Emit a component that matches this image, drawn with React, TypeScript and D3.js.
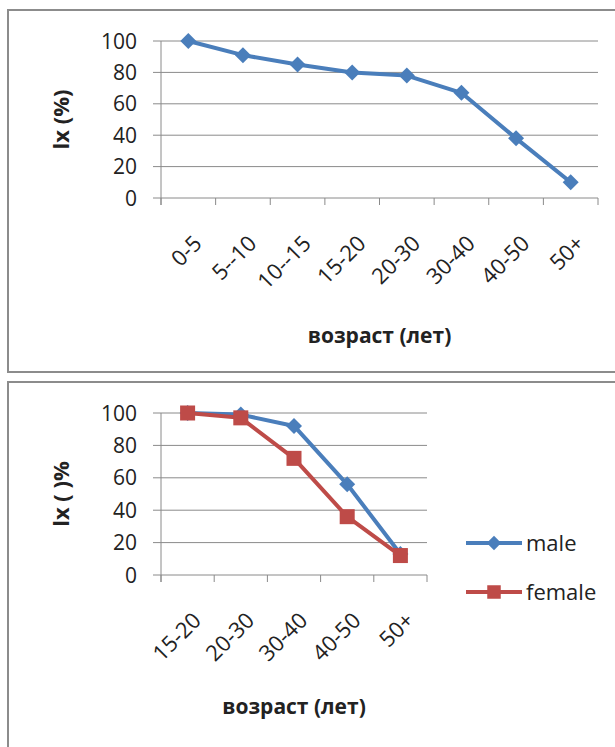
import * as d3 from 'd3';

// top chart: survival of the whole sample
const ageGroups = ['0-5', '5--10', '10--15', '15-20', '20-30', '30-40', '40-50', '50+'];
const lxAll = [100, 91, 85, 80, 78, 67, 38, 10];

// bottom chart: by sex
const ageGroupsSex = ['15-20', '20-30', '30-40', '40-50', '50+'];
const lxMale = [100, 99, 92, 56, 13];
const lxFemale = [100, 97, 72, 36, 12];

const yTicks = [0, 20, 40, 60, 80, 100];

const BLUE = '#4a7ebb';
const RED = '#be4b48';
const GRID = '#8a8a8a';
const FONT = '"Open Sans", "Liberation Sans", sans-serif';

interface Series {
  name: string;
  values: number[];
  color: string;
  marker: 'diamond' | 'square';
}

function Marker({ x, y, kind, color, size = 1 }: { x: number; y: number; kind: string; color: string; size?: number }) {
  if (kind === 'diamond') {
    const r = 8 * size;
    return <path d={`M${x},${y - r}L${x + r},${y}L${x},${y + r}L${x - r},${y}Z`} fill={color} />;
  }
  const s = 15 * size;
  return <rect x={x - s / 2} y={y - s / 2} width={s} height={s} fill={color} />;
}

function LineChart({
  top, categories, series, yTitle, xTitleY, left, right, bottom, legend,
}: {
  top: number; categories: string[]; series: Series[]; yTitle: string;
  xTitleY: number; left: number; right: number; bottom: number; legend?: boolean;
}) {
  const x = d3.scaleBand().domain(categories).range([left, right]);
  const y = d3.scaleLinear().domain([0, 100]).range([bottom, top]);
  const line = d3.line<number>()
    .x((_, i) => x(categories[i])! + x.bandwidth() / 2)
    .y(d => y(d));
  const tickXs = [...categories.map(c => x(c)!), right];

  return (
    <g>
      {yTicks.map(t => (
        <g key={t}>
          <line x1={left - 8} x2={right} y1={y(t)} y2={y(t)} stroke={GRID} strokeWidth={1} />
          <text x={left - 24} y={y(t)} dy="0.36em" textAnchor="end" fontSize={21} fill="#222" fontFamily={FONT}>{t}</text>
        </g>
      ))}
      <line x1={left} x2={left} y1={top} y2={bottom + 7} stroke={GRID} strokeWidth={1} />
      {tickXs.map((tx, i) => (
        <line key={i} x1={tx} x2={tx} y1={bottom} y2={bottom + 7} stroke={GRID} strokeWidth={1} />
      ))}
      {categories.map(c => {
        const cx = x(c)! + x.bandwidth() / 2 + 4;
        const cy = bottom + 36;
        return (
          <text key={c} transform={`translate(${cx},${cy}) rotate(-45)`} textAnchor="end" dy="0.7em"
            fontSize={22} fill="#222" fontFamily={FONT}>{c}</text>
        );
      })}
      {series.map(s => (
        <g key={s.name}>
          <path d={line(s.values)!} fill="none" stroke={s.color} strokeWidth={4} strokeLinejoin="round" />
          {s.values.map((v, i) => (
            <Marker key={i} x={x(categories[i])! + x.bandwidth() / 2} y={y(v)} kind={s.marker} color={s.color} />
          ))}
        </g>
      ))}
      <text transform={`translate(${left - 100},${(top + bottom) / 2}) rotate(-90)`} textAnchor="middle" dy="0.35em"
        fontSize={22} fontWeight="bold" fill="#222" fontFamily={FONT}>{yTitle}</text>
      <text x={(left + right) / 2} y={xTitleY} textAnchor="middle" dy="0.35em"
        fontSize={21} fontWeight="bold" fill="#222" fontFamily={FONT}>возраст (лет)</text>
      {legend && series.map((s, i) => {
        const ly = 543 + i * 49;
        return (
          <g key={s.name}>
            <line x1={466} x2={522} y1={ly} y2={ly} stroke={s.color} strokeWidth={4} />
            <Marker x={494} y={ly} kind={s.marker} color={s.color} size={0.9} />
            <text x={526} y={ly} dy="0.35em" fontSize={22} fill="#222" fontFamily={FONT}>{s.name}</text>
          </g>
        );
      })}
    </g>
  );
}

export default function App() {
  return (
    <div style={{ position: 'absolute', left: 0, top: 0 }}>
      <svg width={615} height={747} style={{ display: 'block', background: '#fff' }}>
        <rect x={8} y={10} width={620} height={362} fill="#fff" stroke="#8c8c8c" strokeWidth={2} />
        <rect x={8} y={382} width={620} height={380} fill="#fff" stroke="#8c8c8c" strokeWidth={2} />
        <LineChart
          top={41} bottom={198} left={161} right={598}
          categories={ageGroups}
          series={[{ name: 'lx', values: lxAll, color: BLUE, marker: 'diamond' }]}
          yTitle="lx (%)" xTitleY={336}
        />
        <LineChart
          top={413} bottom={575} left={161} right={427}
          categories={ageGroupsSex}
          series={[
            { name: 'male', values: lxMale, color: BLUE, marker: 'diamond' },
            { name: 'female', values: lxFemale, color: RED, marker: 'square' },
          ]}
          yTitle="lx ( )%" xTitleY={707} legend
        />
      </svg>
    </div>
  );
}
